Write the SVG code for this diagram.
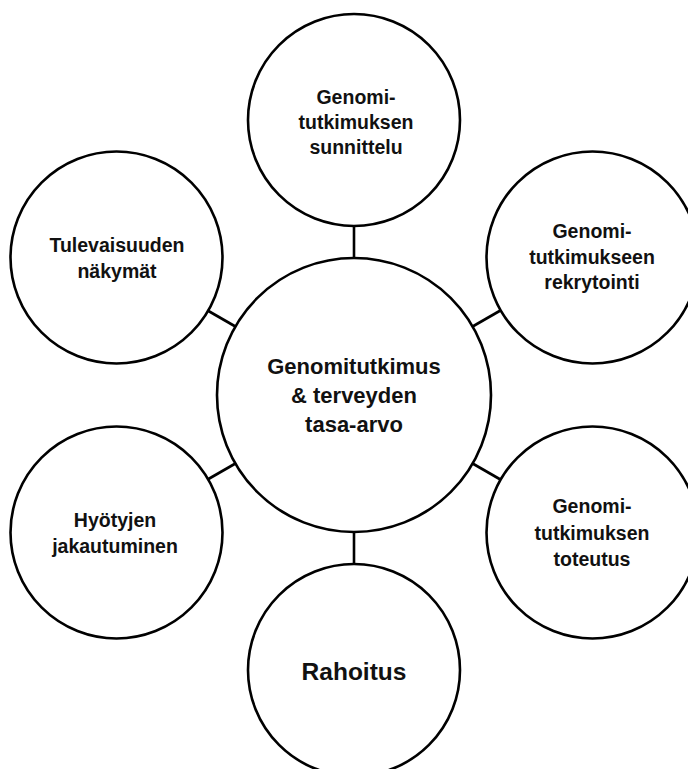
<svg xmlns="http://www.w3.org/2000/svg" width="688" height="769" viewBox="0 0 688 769">
<style>
.c{fill:#fff;stroke:#000;stroke-width:2.6}
.l{stroke:#000;stroke-width:2.6;fill:none}
text{font-family:"Liberation Sans",Arial,sans-serif;font-weight:bold;fill:#111;text-anchor:middle}
.s{font-size:19.5px}
.m{font-size:22px}
.r{font-size:24.5px}
</style>
<rect width="688" height="769" fill="#fff"/>
<g id="connectors">
<line class="l" x1="354" y1="258" x2="354" y2="226"/>
<line class="l" x1="472.6" y1="326.5" x2="500.4" y2="310.5"/>
<line class="l" x1="472.6" y1="463.5" x2="500.4" y2="479.5"/>
<line class="l" x1="354" y1="532" x2="354" y2="564"/>
<line class="l" x1="235.4" y1="463.5" x2="207.6" y2="479.5"/>
<line class="l" x1="235.4" y1="326.5" x2="207.6" y2="310.5"/>
</g>
<g id="center">
<circle class="c" cx="354" cy="395" r="137"/>
<text class="m" x="354" y="374">Genomitutkimus</text>
<text class="m" x="354" y="403">&amp; terveyden</text>
<text class="m" x="354" y="432">tasa-arvo</text>
</g>
<g id="top">
<circle class="c" cx="354" cy="120" r="106"/>
<text class="s" x="356" y="104">Genomi-</text>
<text class="s" x="356" y="129">tutkimuksen</text>
<text class="s" x="356" y="154">sunnittelu</text>
</g>
<g id="right-top">
<circle class="c" cx="592.5" cy="257.5" r="106"/>
<text class="s" x="592" y="238">Genomi-</text>
<text class="s" x="592" y="264">tutkimukseen</text>
<text class="s" x="592" y="289">rekrytointi</text>
</g>
<g id="right-bottom">
<circle class="c" cx="592.5" cy="532.5" r="106"/>
<text class="s" x="592" y="513">Genomi-</text>
<text class="s" x="592" y="540">tutkimuksen</text>
<text class="s" x="592" y="566">toteutus</text>
</g>
<g id="bottom">
<circle class="c" cx="354" cy="670" r="106"/>
<text class="r" x="354" y="680">Rahoitus</text>
</g>
<g id="left-bottom">
<circle class="c" cx="116.5" cy="532.5" r="106"/>
<text class="s" x="115" y="527">Hyötyjen</text>
<text class="s" x="115" y="553">jakautuminen</text>
</g>
<g id="left-top">
<circle class="c" cx="116.5" cy="257.5" r="106"/>
<text class="s" x="117" y="252">Tulevaisuuden</text>
<text class="s" x="117" y="278">näkymät</text>
</g>
</svg>
